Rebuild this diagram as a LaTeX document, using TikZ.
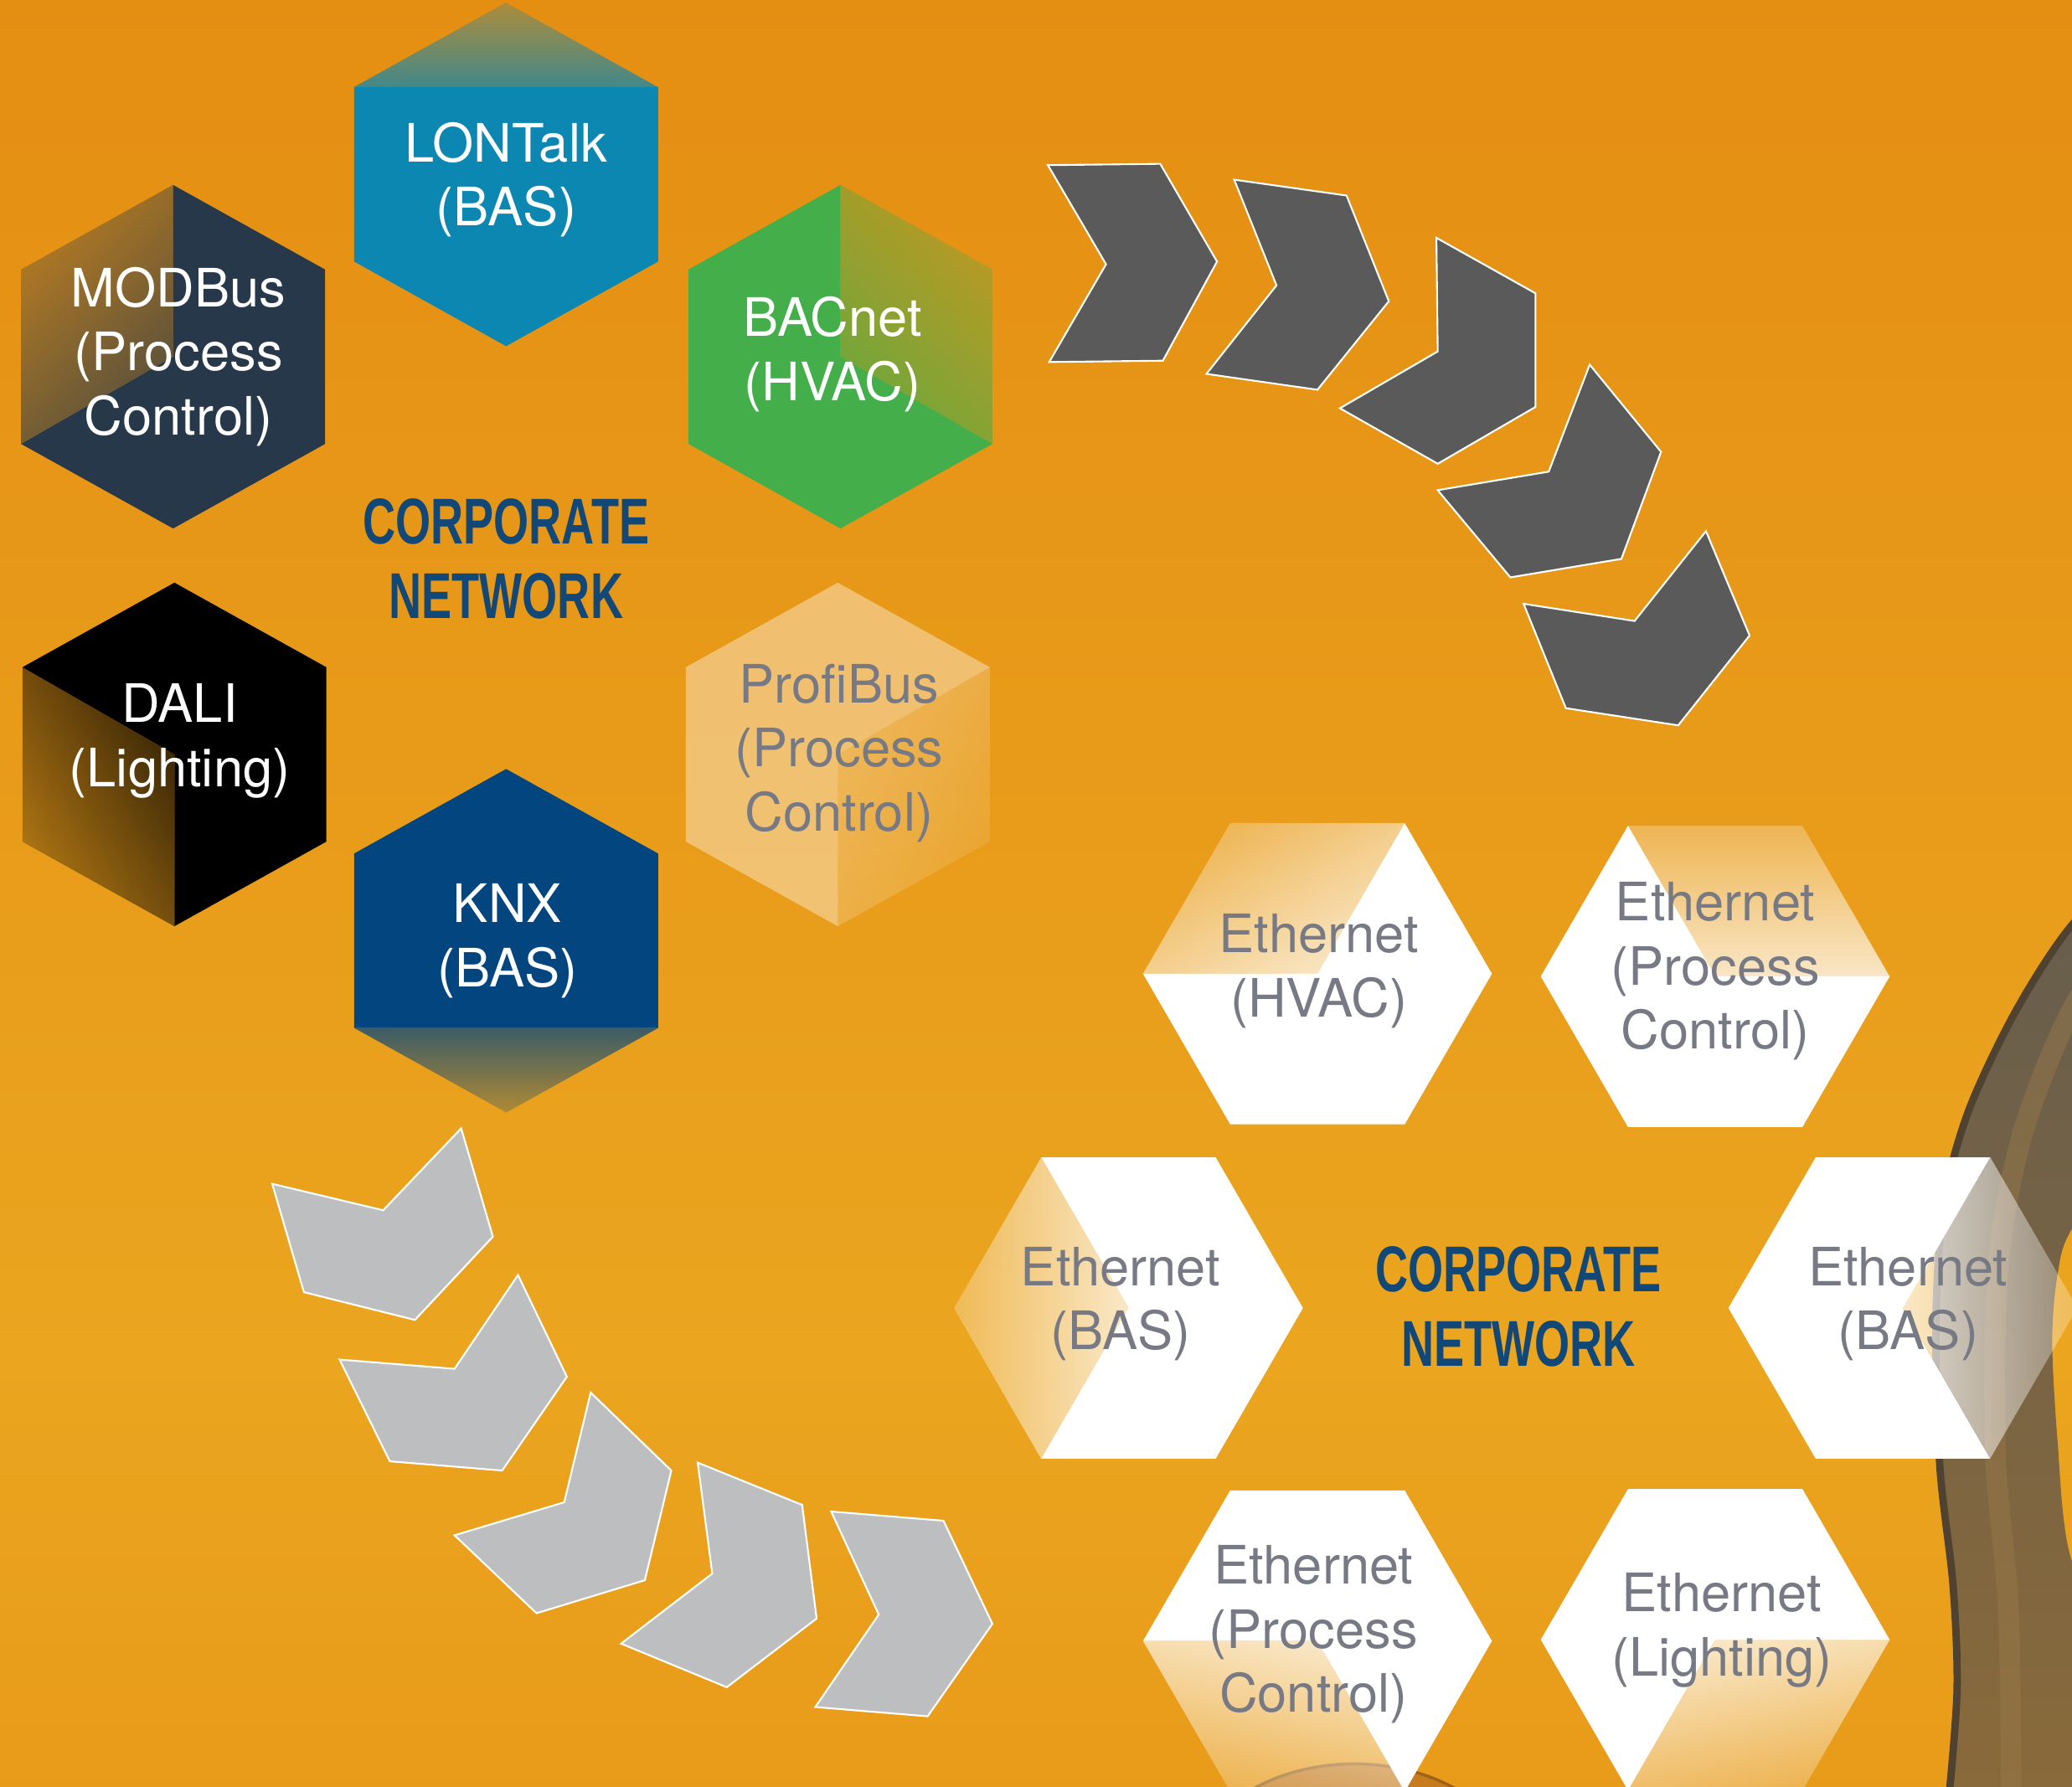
\documentclass[tikz,border=0pt]{standalone}
\usepackage{fontspec}
\setmainfont{TeX Gyre Heros}
\newfontfamily\condfont{Liberation Sans}[FakeStretch=0.7]
\usetikzlibrary{fadings}

\definecolor{bgtop}{HTML}{E07F0A}
\definecolor{bgmid}{HTML}{EBA51F}
\definecolor{bgbot}{HTML}{E2870E}
\definecolor{lonblue}{HTML}{0C87B2}
\definecolor{modslate}{HTML}{27384A}
\definecolor{bacgreen}{HTML}{44AE4A}
\definecolor{knxnavy}{HTML}{03467F}
\definecolor{corpblue}{HTML}{124878}
\definecolor{ethgrey}{HTML}{777A84}
\definecolor{chevdark}{HTML}{5A5A5A}
\definecolor{chevlight}{HTML}{BDBEC0}
\definecolor{bandtop}{HTML}{655D4E}
\definecolor{bandbot}{HTML}{8A6A3A}
\definecolor{bandedge}{HTML}{4F4230}
\definecolor{bandlight}{HTML}{9A7A4A}
\definecolor{domefill}{HTML}{C67C1C}

\pgfdeclareverticalshading{bgshade}{100bp}{color(0bp)=(bgbot); color(37bp)=(bgmid); color(100bp)=(bgtop)}

\begin{tikzfadingfrompicture}[name=hexfade]
  \fill[transparent!0] (-150bp,-150bp) rectangle (-50bp,150bp);
  \shade[left color=transparent!0, right color=transparent!100] (-50bp,-150bp) rectangle (50bp,150bp);
  \fill[transparent!100] (50bp,-150bp) rectangle (150bp,150bp);
\end{tikzfadingfrompicture}

\tikzset{
  fadeto/.style={path fading=hexfade, fading angle=#1},
  hexlabel/.style={align=center, inner sep=0pt, text=white, font=\fontsize{18}{21.8}\selectfont},
  ethlabel/.style={hexlabel, text=ethgrey},
  corplabel/.style={align=center, inner sep=0pt, text=corpblue, font=\condfont\bfseries\fontsize{22}{25.5}\selectfont},
  darkchev/.style={fill=chevdark, draw=white, line width=0.6pt},
  lightchev/.style={fill=chevlight, draw=white, line width=0.6pt},
}

% corners of a hexagon standing on a point / lying flat
\newcommand{\pointyhex}[3]{\coordinate (#1) at (#2,#3);
  \path (#1) +(0,130) coordinate (#1-t) +(115,66) coordinate (#1-ur) +(115,-66) coordinate (#1-lr)
    +(0,-130) coordinate (#1-b) +(-115,-66) coordinate (#1-ll) +(-115,66) coordinate (#1-ul);}
\newcommand{\flathex}[3]{\coordinate (#1) at (#2,#3);
  \path (#1) +(132,0) coordinate (#1-r) +(66,114) coordinate (#1-ur) +(-66,114) coordinate (#1-ul)
    +(-132,0) coordinate (#1-l) +(-66,-114) coordinate (#1-ll) +(66,-114) coordinate (#1-lr);}

\begin{document}
\begin{tikzpicture}[x=0.015778cm, y=0.015778cm]
\useasboundingbox (0,0) rectangle (1568,-1352);
\clip (0,0) rectangle (1568,-1352);
\shade[shading=bgshade] (0,0) rectangle (1568,-1352);

% swirl at the right edge and the dome at the bottom
\shade[top color=bandtop, bottom color=bandbot] plot[smooth] coordinates {(1630,-640) (1568,-700) (1525,-766) (1490,-840) (1471,-910) (1465,-1000) (1468,-1110) (1478,-1200) (1481,-1280) (1474,-1370)}
  -- (1640,-1370) -- plot[smooth] coordinates {(1600,-1260) (1566,-1175) (1557,-1090) (1553,-1015) (1557,-965) (1568,-930) (1620,-860)} -- cycle;
\draw[bandlight, line width=7pt, opacity=.45] plot[smooth] coordinates {(1615,-690) (1565,-770) (1530,-860) (1512,-960) (1510,-1100) (1520,-1220) (1522,-1370)};
\draw[bandedge, line width=2.5pt] plot[smooth] coordinates {(1630,-640) (1568,-700) (1525,-766) (1490,-840) (1471,-910) (1465,-1000) (1468,-1110) (1478,-1200) (1481,-1280) (1474,-1370)};
\fill[domefill, draw=domefill!80!black, line width=1pt] (1025,-1425) ellipse [x radius=125, y radius=90];

% chevrons from the left cluster over to the right one
\draw[darkchev] (793,-125) -- (878,-124) -- (921,-198) -- (880,-273) -- (794,-274) -- (837,-200) -- cycle;
\draw[darkchev] (934,-136) -- (1019,-148) -- (1051,-228) -- (997,-295) -- (913,-283) -- (966,-216) -- cycle;
\draw[darkchev] (1087,-180) -- (1162,-222) -- (1162,-308) -- (1088,-351) -- (1014,-309) -- (1088,-266) -- cycle;
\draw[darkchev] (1203,-276) -- (1257,-342) -- (1227,-423) -- (1143,-437) -- (1088,-371) -- (1172,-357) -- cycle;
\draw[darkchev] (1291,-402) -- (1324,-481) -- (1270,-549) -- (1185,-536) -- (1153,-457) -- (1237,-470) -- cycle;

\draw[lightchev] (206,-896) -- (290,-916) -- (349,-854) -- (373,-936) -- (314,-999) -- (230,-978) -- cycle;
\draw[lightchev] (257,-1029) -- (344,-1036) -- (392,-965) -- (429,-1042) -- (380,-1113) -- (295,-1106) -- cycle;
\draw[lightchev] (344,-1162) -- (427,-1137) -- (447,-1054) -- (508,-1113) -- (488,-1196) -- (406,-1221) -- cycle;
\draw[lightchev] (470,-1244) -- (539,-1191) -- (528,-1107) -- (607,-1139) -- (618,-1225) -- (550,-1277) -- cycle;
\draw[lightchev] (617,-1292) -- (665,-1222) -- (629,-1144) -- (714,-1151) -- (751,-1229) -- (702,-1299) -- cycle;

% protocol hexagons
\pointyhex{lon}{383}{-132}
\pointyhex{mod}{131}{-270}
\pointyhex{bac}{636}{-270}
\pointyhex{dal}{132}{-571}
\pointyhex{pro}{634}{-571}
\pointyhex{knx}{383}{-712}
\fill[lonblue] (lon-ul) -- (lon-ur) -- (lon-lr) -- (lon-b) -- (lon-ll) -- cycle;
\fill[lonblue, fadeto=90] (lon-ul) -- (lon-t) -- (lon-ur) -- cycle;
\fill[modslate] (mod-t) -- (mod-ur) -- (mod-lr) -- (mod-b) -- (mod-ll) -- (mod) -- cycle;
\fill[modslate, fadeto=120] (mod-t) -- (mod-ul) -- (mod-ll) -- (mod) -- cycle;
\fill[bacgreen] (bac-t) -- (bac) -- (bac-lr) -- (bac-b) -- (bac-ll) -- (bac-ul) -- cycle;
\fill[bacgreen, fadeto=60] (bac-t) -- (bac-ur) -- (bac-lr) -- (bac) -- cycle;
\fill[black] (dal-t) -- (dal-ur) -- (dal-lr) -- (dal-b) -- (dal) -- (dal-ul) -- cycle;
\fill[black, fadeto=225] (dal-ul) -- (dal) -- (dal-b) -- (dal-ll) -- cycle;
\fill[white, fill opacity=.38] (pro-t) -- (pro-ur) -- (pro) -- (pro-b) -- (pro-ll) -- (pro-ul) -- cycle;
\fill[white, fill opacity=.38, fadeto=315] (pro) -- (pro-ur) -- (pro-lr) -- (pro-b) -- cycle;
\fill[knxnavy] (knx-t) -- (knx-ur) -- (knx-lr) -- (knx-ll) -- (knx-ul) -- cycle;
\fill[knxnavy, fadeto=270] (knx-ll) -- (knx-lr) -- (knx-b) -- cycle;

\node[hexlabel] (lontalk) at (383,-136) {LONTalk\\(BAS)};
\node[hexlabel] (modbus) at (135,-270) {MODBus\\(Process\\Control)};
\node[hexlabel] (bacnet) at (630,-268) {BACnet\\(HVAC)};
\node[hexlabel] (dali) at (136,-561) {DALI\\(Lighting)};
\node[ethlabel] (profibus) at (635,-570) {ProfiBus\\(Process\\Control)};
\node[hexlabel] (knx) at (384,-712) {KNX\\(BAS)};
\node[corplabel] (corpleft) at (383,-423) {CORPORATE\\NETWORK};

% ethernet hexagons
\flathex{hva}{997}{-737}
\flathex{pct}{1298}{-739}
\flathex{bal}{854}{-990}
\flathex{bar}{1440}{-990}
\flathex{pcb}{997}{-1242}
\flathex{lig}{1298}{-1241}
\fill[white] (hva-ur) -- (hva-r) -- (hva-lr) -- (hva-ll) -- (hva-l) -- (hva) -- cycle;
\fill[white, fadeto=135] (hva-l) -- (hva-ul) -- (hva-ur) -- (hva) -- cycle;
\fill[white] (pct-ul) -- (pct) -- (pct-r) -- (pct-lr) -- (pct-ll) -- (pct-l) -- cycle;
\fill[white, fadeto=90] (pct-ul) -- (pct-ur) -- (pct-r) -- (pct) -- cycle;
\fill[white] (bal-ul) -- (bal-ur) -- (bal-r) -- (bal-lr) -- (bal-ll) -- (bal) -- cycle;
\fill[white, fadeto=180] (bal-ul) -- (bal) -- (bal-ll) -- (bal-l) -- cycle;
\fill[white] (bar-ul) -- (bar-ur) -- (bar) -- (bar-lr) -- (bar-ll) -- (bar-l) -- cycle;
\fill[white, fadeto=0] (bar-ur) -- (bar-r) -- (bar-lr) -- (bar) -- cycle;
\fill[white] (pcb-l) -- (pcb-ul) -- (pcb-ur) -- (pcb-r) -- (pcb-lr) -- (pcb) -- cycle;
\fill[white, fadeto=250] (pcb-l) -- (pcb) -- (pcb-lr) -- (pcb-ll) -- cycle;
\fill[white] (lig-l) -- (lig-ul) -- (lig-ur) -- (lig-r) -- (lig) -- (lig-ll) -- cycle;
\fill[white, fadeto=290] (lig) -- (lig-r) -- (lig-lr) -- (lig-ll) -- cycle;

\node[ethlabel] (ethhvac) at (998,-735) {Ethernet\\(HVAC)};
\node[ethlabel] (ethproctop) at (1298,-735) {Ethernet\\(Process\\Control)};
\node[ethlabel] (ethbasleft) at (848,-987) {Ethernet\\(BAS)};
\node[ethlabel] (ethbasright) at (1444,-987) {Ethernet\\(BAS)};
\node[ethlabel] (ethprocbot) at (994,-1237) {Ethernet\\(Process\\Control)};
\node[ethlabel] (ethlight) at (1303,-1234) {Ethernet\\(Lighting)};
\node[corplabel] (corpright) at (1149,-989) {CORPORATE\\NETWORK};
\end{tikzpicture}
\end{document}
